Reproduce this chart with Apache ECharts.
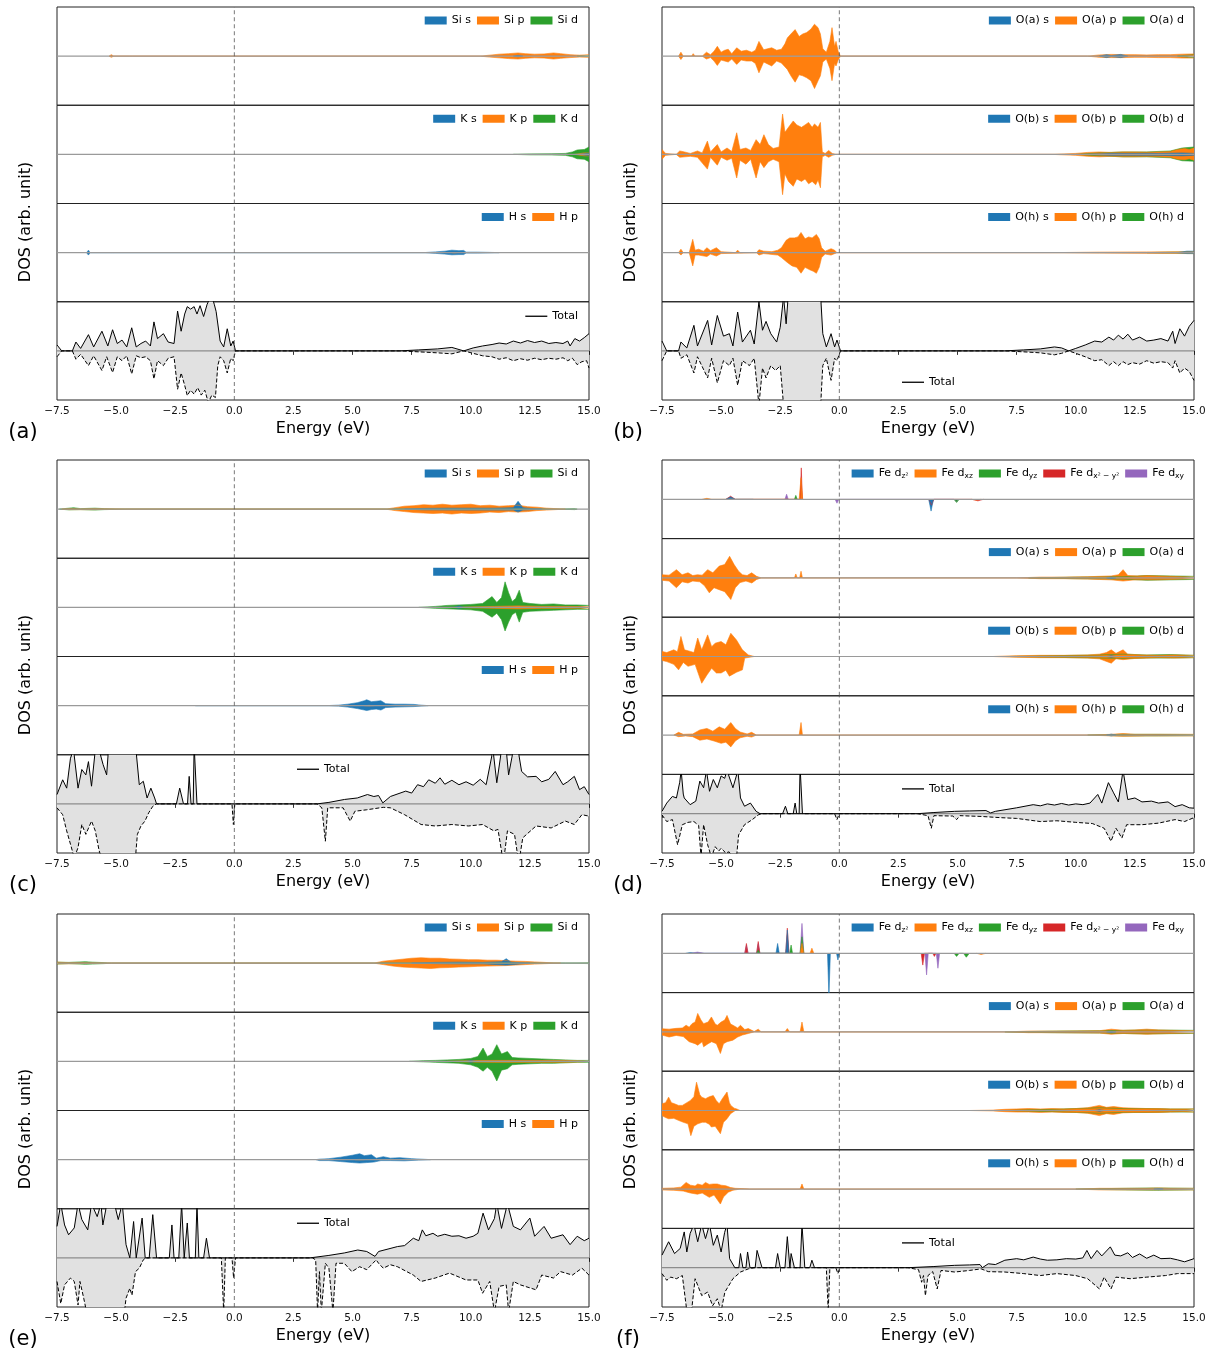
<!DOCTYPE html>
<html><head><meta charset="utf-8">
<script src="https://cdn.jsdelivr.net/npm/echarts/dist/echarts.min.js"></script>
<style>html,body{margin:0;padding:0;background:#fff}#c{width:1215px;height:1358px}</style>
</head><body><div id="c"></div>
<script>
// ---------- tick labels ----------
const energyTicks = [-7.5,-5.0,-2.5,0.0,2.5,5.0,7.5,10.0,12.5,15.0];

// ---------- panel (a) ----------
const a_Sis_u=[[11.8,0],[12.0,0.015],[12.2,0]];
const a_Sis_d=[[11.8,0],[12.0,-0.012],[12.2,0]];
const a_Sip_u=[[-5.3,0],[-5.2,0.03],[-5.1,0],[-4.45,0],[-4.38,0.035],[-4.3,0],[-2.45,0],[-2.4,0.01],[-2.35,0],[10.4,0],[10.8,0.02],[11.2,0.04],[11.6,0.05],[12.0,0.065],[12.3,0.05],[12.7,0.04],[13.1,0.045],[13.5,0.065],[13.8,0.05],[14.2,0.03],[14.6,0.02],[15,0.03]];
const a_Sip_d=[[-5.3,0],[-5.2,-0.025],[-5.1,0],[-4.45,0],[-4.38,-0.03],[-4.3,0],[10.4,0],[10.8,-0.02],[11.2,-0.035],[11.6,-0.05],[12.0,-0.06],[12.3,-0.045],[12.7,-0.035],[13.1,-0.04],[13.5,-0.06],[13.8,-0.045],[14.2,-0.03],[14.6,-0.02],[15,-0.025]];
const a_Sid_u=[[14.5,0],[15,0.01]];
const a_Sid_d=[[14.5,0],[15,-0.01]];
const a_Ks_u=[[14.6,0],[14.9,0.02],[15,0.02]];
const a_Ks_d=[[14.6,0],[14.9,-0.02],[15,-0.02]];
const a_Kp_u=[[14.4,0],[14.8,0.03],[15,0.03]];
const a_Kp_d=[[14.4,0],[14.8,-0.03],[15,-0.03]];
const a_Kd_u=[[11.8,0],[12.5,0.01],[13.4,0.012],[14.0,0.02],[14.3,0.05],[14.5,0.09],[14.8,0.1],[15,0.15]];
const a_Kd_d=[[11.8,0],[12.5,-0.01],[13.4,-0.012],[14.0,-0.02],[14.3,-0.05],[14.5,-0.09],[14.8,-0.1],[15,-0.15]];
const a_Hs_u=[[-6.25,0],[-6.17,0.05],[-6.1,0],[-5.55,0],[-5.5,0.01],[-5.45,0],[-5.2,0],[-5.15,0.015],[-5.1,0],[8.0,0],[8.5,0.015],[8.9,0.03],[9.2,0.05],[9.5,0.04],[9.7,0.045],[9.8,0.01],[10.3,0.01],[10.8,0.005],[11.2,0]];
const a_Hs_d=[[-6.25,0],[-6.17,-0.05],[-6.1,0],[-5.2,0],[-5.15,-0.01],[-5.1,0],[8.0,0],[8.5,-0.015],[8.9,-0.03],[9.2,-0.045],[9.5,-0.04],[9.7,-0.04],[9.8,-0.01],[10.3,-0.01],[11.2,0]];
const a_Hp_u=[[9.2,0],[9.3,0.005],[9.4,0]];
const a_Hp_d=[[9.2,0],[9.3,-0.005],[9.4,0]];
const a_T_u=[[-7.5,0.12],[-7.3,0],[-6.85,0],[-6.7,0.18],[-6.5,0.05],[-6.17,0.33],[-5.95,0.08],[-5.6,0.4],[-5.35,0.1],[-5.15,0.43],[-4.95,0.15],[-4.75,0.22],[-4.55,0.08],[-4.34,0.47],[-4.15,0.08],[-3.95,0.15],[-3.75,0.2],[-3.55,0.1],[-3.4,0.59],[-3.25,0.25],[-3.0,0.35],[-2.8,0.18],[-2.55,0.15],[-2.4,0.81],[-2.25,0.4],[-2.1,0.75],[-1.99,0.9],[-1.85,0.85],[-1.7,0.9],[-1.58,0.75],[-1.45,0.92],[-1.3,0.7],[-1.15,0.95],[-1.05,1.05],[-0.95,1.1],[-0.85,0.95],[-0.77,0.8],[-0.6,0.2],[-0.45,0.08],[-0.3,0.45],[-0.15,0.1],[-0.05,0.2],[0.05,0],[7.0,0],[7.8,0.02],[8.6,0.04],[9.2,0.07],[9.7,0],[10.1,0.06],[10.5,0.1],[10.9,0.13],[11.2,0.16],[11.5,0.14],[11.8,0.2],[12.1,0.16],[12.4,0.21],[12.7,0.17],[13.0,0.2],[13.3,0.15],[13.6,0.17],[13.9,0.15],[14.1,0.2],[14.2,0.1],[14.4,0.25],[14.6,0.2],[14.8,0.27],[15,0.35]];
const a_T_d=[[-7.5,-0.12],[-7.3,0],[-6.85,0],[-6.7,-0.17],[-6.5,-0.07],[-6.17,-0.3],[-5.95,-0.1],[-5.6,-0.4],[-5.4,-0.12],[-5.15,-0.44],[-4.95,-0.12],[-4.75,-0.2],[-4.55,-0.1],[-4.34,-0.47],[-4.15,-0.1],[-3.95,-0.14],[-3.75,-0.12],[-3.55,-0.2],[-3.4,-0.57],[-3.25,-0.2],[-3.0,-0.3],[-2.8,-0.15],[-2.55,-0.12],[-2.4,-0.78],[-2.25,-0.45],[-2.1,-0.7],[-1.99,-0.91],[-1.85,-0.8],[-1.7,-0.88],[-1.55,-0.75],[-1.4,-0.9],[-1.25,-0.8],[-1.1,-1.05],[-0.95,-0.9],[-0.8,-0.95],[-0.7,-0.3],[-0.6,-0.12],[-0.45,-0.2],[-0.3,-0.45],[-0.15,-0.15],[-0.05,-0.2],[0.05,0],[7.0,0],[7.8,-0.02],[8.6,-0.04],[9.2,-0.06],[9.7,0],[10.1,-0.05],[10.5,-0.1],[10.9,-0.12],[11.2,-0.17],[11.5,-0.14],[11.8,-0.2],[12.1,-0.16],[12.4,-0.19],[12.7,-0.15],[13.0,-0.18],[13.3,-0.15],[13.6,-0.17],[13.9,-0.14],[14.1,-0.2],[14.3,-0.15],[14.5,-0.28],[14.7,-0.22],[14.9,-0.2],[15,-0.35]];

// ---------- panel (b) ----------
const b_Oas_u=[[11,0],[11.3,0.03],[11.5,0.01],[11.9,0.035],[12.2,0]];
const b_Oas_d=[[11,0],[11.3,-0.03],[11.5,-0.01],[11.9,-0.03],[12.2,0]];
const b_Oap_u=[[-6.8,0],[-6.7,0.08],[-6.6,0],[-6.25,0],[-6.18,0.05],[-6.1,0],[-5.8,0],[-5.62,0.08],[-5.45,0.03],[-5.3,0.1],[-5.16,0.2],[-5.0,0.08],[-4.85,0.12],[-4.7,0.14],[-4.55,0.05],[-4.34,0.17],[-4.15,0.1],[-3.93,0.12],[-3.7,0.08],[-3.55,0.12],[-3.4,0.3],[-3.2,0.13],[-2.86,0.17],[-2.65,0.12],[-2.45,0.14],[-2.3,0.25],[-2.2,0.37],[-2.05,0.45],[-1.87,0.54],[-1.7,0.4],[-1.55,0.45],[-1.38,0.48],[-1.2,0.55],[-1.05,0.65],[-0.9,0.58],[-0.8,0.45],[-0.7,0.15],[-0.55,0.08],[-0.4,0.3],[-0.31,0.58],[-0.2,0.2],[-0.14,0.3],[-0.05,0.1],[0.05,0],[10.5,0],[11,0.025],[11.5,0.035],[12,0.03],[12.5,0.03],[13,0.025],[13.5,0.03],[14,0.03],[14.5,0.04],[15,0.045]];
const b_Oap_d=[[-6.8,0],[-6.7,-0.07],[-6.6,0],[-5.8,0],[-5.62,-0.06],[-5.45,-0.03],[-5.3,-0.1],[-5.16,-0.19],[-5.0,-0.08],[-4.7,-0.12],[-4.55,-0.06],[-4.34,-0.17],[-4.15,-0.08],[-3.93,-0.1],[-3.7,-0.1],[-3.55,-0.15],[-3.4,-0.34],[-3.2,-0.12],[-2.86,-0.2],[-2.65,-0.1],[-2.45,-0.14],[-2.2,-0.27],[-2.05,-0.4],[-1.87,-0.53],[-1.7,-0.38],[-1.55,-0.4],[-1.38,-0.44],[-1.2,-0.5],[-1.05,-0.66],[-0.9,-0.5],[-0.8,-0.4],[-0.7,-0.12],[-0.55,-0.06],[-0.4,-0.25],[-0.31,-0.5],[-0.2,-0.15],[-0.14,-0.2],[-0.05,-0.08],[0.05,0],[10.5,0],[11,-0.025],[11.5,-0.03],[12,-0.03],[12.5,-0.025],[13,-0.025],[13.5,-0.03],[14,-0.03],[14.5,-0.04],[15,-0.04]];
const b_Oad_u=[[14.3,0],[14.7,0.02],[15,0.03]];
const b_Oad_d=[[14.3,0],[14.7,-0.02],[15,-0.03]];
const b_Obs_u=[[10.5,0],[11.5,0.02],[12.5,0.02],[13.5,0.02],[14.5,0.03],[15,0.02]];
const b_Obs_d=[[10.5,0],[11.5,-0.02],[12.5,-0.02],[13.5,-0.02],[14.5,-0.03],[15,-0.02]];
const b_Obp_u=[[-7.5,0.1],[-7.35,0.02],[-6.9,0],[-6.75,0.07],[-6.55,0.05],[-6.3,0.02],[-6.0,0.07],[-5.8,0.03],[-5.58,0.27],[-5.45,0.05],[-5.16,0.2],[-5.0,0.05],[-4.75,0.13],[-4.55,0.06],[-4.34,0.44],[-4.2,0.1],[-3.95,0.13],[-3.75,0.08],[-3.52,0.3],[-3.35,0.2],[-3.19,0.4],[-3.0,0.2],[-2.8,0.12],[-2.55,0.15],[-2.4,0.82],[-2.3,0.45],[-2.15,0.55],[-1.95,0.68],[-1.8,0.6],[-1.6,0.55],[-1.45,0.6],[-1.3,0.65],[-1.15,0.55],[-1.05,0.62],[-0.9,0.55],[-0.8,0.65],[-0.72,0.05],[-0.6,0.02],[-0.45,0.08],[-0.3,0.02],[-0.15,0],[9.0,0],[9.5,0.01],[10.0,0.02],[10.5,0.04],[11.0,0.05],[11.5,0.04],[12.0,0.05],[12.5,0.05],[13.0,0.045],[13.5,0.05],[14.0,0.06],[14.3,0.1],[14.6,0.12],[14.8,0.1],[15,0.13]];
const b_Obp_d=[[-7.5,-0.1],[-7.35,-0.02],[-6.9,0],[-6.75,-0.06],[-6.3,-0.04],[-6.0,-0.06],[-5.58,-0.3],[-5.45,-0.06],[-5.16,-0.22],[-5.0,-0.06],[-4.75,-0.12],[-4.55,-0.08],[-4.34,-0.48],[-4.2,-0.12],[-3.95,-0.2],[-3.75,-0.1],[-3.52,-0.48],[-3.35,-0.15],[-3.19,-0.27],[-3.0,-0.15],[-2.8,-0.1],[-2.55,-0.15],[-2.4,-0.82],[-2.3,-0.4],[-2.15,-0.55],[-1.95,-0.65],[-1.8,-0.5],[-1.6,-0.55],[-1.45,-0.5],[-1.3,-0.6],[-1.15,-0.55],[-1.0,-0.62],[-0.9,-0.52],[-0.8,-0.68],[-0.72,-0.05],[-0.6,-0.02],[-0.45,-0.06],[-0.3,-0.02],[-0.15,0],[9.0,0],[9.5,-0.01],[10.0,-0.02],[10.5,-0.04],[11.0,-0.05],[11.5,-0.04],[12.0,-0.05],[12.5,-0.05],[13.0,-0.045],[13.5,-0.05],[14.0,-0.06],[14.3,-0.1],[14.6,-0.11],[14.8,-0.09],[15,-0.12]];
const b_Obd_u=[[10,0],[11,0.03],[12,0.05],[13,0.05],[14,0.07],[14.5,0.13],[15,0.15]];
const b_Obd_d=[[10,0],[11,-0.03],[12,-0.05],[13,-0.05],[14,-0.07],[14.5,-0.13],[15,-0.14]];
const b_Ohs_u=[[14.3,0],[14.7,0.03],[15,0.03]];
const b_Ohs_d=[[14.3,0],[14.7,-0.02],[15,-0.02]];
const b_Ohp_u=[[-6.8,0],[-6.7,0.07],[-6.6,0],[-6.35,0],[-6.2,0.27],[-6.1,0.05],[-5.95,0.07],[-5.75,0.03],[-5.6,0.1],[-5.45,0.04],[-5.2,0.1],[-5.0,0.02],[-4.4,0],[-4.3,0.05],[-4.2,0],[-3.5,0],[-3.4,0.06],[-3.2,0.03],[-2.85,0.02],[-2.6,0.05],[-2.45,0.1],[-2.25,0.25],[-2.1,0.3],[-1.9,0.3],[-1.75,0.32],[-1.62,0.41],[-1.45,0.28],[-1.3,0.32],[-1.15,0.3],[-0.97,0.37],[-0.85,0.28],[-0.75,0.1],[-0.6,0.03],[-0.35,0.08],[-0.2,0.05],[-0.1,0],[9,0],[11,0.01],[13,0.015],[15,0.02]];
const b_Ohp_d=[[-6.8,0],[-6.7,-0.05],[-6.6,0],[-6.35,0],[-6.2,-0.27],[-6.1,-0.05],[-5.95,-0.05],[-5.6,-0.08],[-5.45,-0.03],[-5.2,-0.07],[-5.0,-0.02],[-3.5,0],[-3.4,-0.05],[-3.2,-0.02],[-2.6,-0.05],[-2.45,-0.1],[-2.2,-0.2],[-2.0,-0.27],[-1.8,-0.3],[-1.62,-0.42],[-1.45,-0.3],[-1.25,-0.35],[-1.1,-0.38],[-0.97,-0.42],[-0.85,-0.3],[-0.75,-0.1],[-0.6,-0.03],[-0.35,-0.05],[-0.1,0],[9,0],[11,-0.01],[13,-0.015],[15,-0.02]];
const b_Ohd_u=[[13,0],[14,0.01],[15,0.015]];
const b_Ohd_d=[[13,0],[14,-0.01],[15,-0.015]];
const b_T_u=[[-7.5,0.2],[-7.3,0],[-6.8,0],[-6.7,0.18],[-6.45,0.06],[-6.15,0.52],[-6.0,0.1],[-5.57,0.62],[-5.4,0.12],[-5.16,0.72],[-4.9,0.3],[-4.65,0.35],[-4.5,0.1],[-4.3,0.79],[-4.1,0.18],[-3.76,0.42],[-3.6,0.14],[-3.4,1.0],[-3.25,0.42],[-3.1,0.6],[-2.9,0.35],[-2.65,0.18],[-2.5,0.48],[-2.36,1.1],[-2.25,0.55],[-2.15,1.2],[-1.5,1.4],[-0.8,1.2],[-0.7,0.35],[-0.55,0.08],[-0.35,0.35],[-0.2,0.08],[-0.1,0.22],[0.05,0],[7.0,0],[7.8,0.02],[8.5,0.04],[9.1,0.08],[9.4,0.06],[9.7,0],[10.0,0.05],[10.4,0.12],[10.8,0.2],[11.1,0.18],[11.4,0.28],[11.6,0.22],[11.8,0.32],[12.0,0.24],[12.2,0.34],[12.4,0.22],[12.7,0.28],[13.0,0.2],[13.3,0.22],[13.6,0.25],[13.9,0.2],[14.1,0.4],[14.2,0.15],[14.4,0.45],[14.6,0.3],[14.8,0.5],[15,0.62]];
const b_T_d=[[-7.5,-0.2],[-7.3,0],[-6.8,0],[-6.7,-0.15],[-6.45,-0.08],[-6.15,-0.45],[-6.0,-0.12],[-5.57,-0.55],[-5.4,-0.15],[-5.16,-0.65],[-4.9,-0.2],[-4.65,-0.3],[-4.5,-0.15],[-4.3,-0.7],[-4.1,-0.2],[-3.8,-0.3],[-3.6,-0.15],[-3.4,-1.1],[-3.25,-0.35],[-3.1,-0.55],[-2.9,-0.3],[-2.7,-0.4],[-2.5,-0.3],[-2.36,-1.1],[-1.5,-1.4],[-0.8,-1.2],[-0.7,-0.3],[-0.55,-0.15],[-0.35,-0.6],[-0.2,-0.15],[-0.1,-0.2],[0.05,0],[7.0,0],[7.8,-0.02],[8.5,-0.04],[9.1,-0.08],[9.4,-0.05],[9.7,0],[10.0,-0.05],[10.4,-0.12],[10.8,-0.2],[11.1,-0.18],[11.4,-0.3],[11.6,-0.22],[11.8,-0.3],[12.0,-0.22],[12.2,-0.28],[12.4,-0.24],[12.7,-0.27],[13.0,-0.2],[13.3,-0.25],[13.6,-0.22],[13.9,-0.24],[14.1,-0.35],[14.2,-0.2],[14.4,-0.45],[14.6,-0.35],[14.8,-0.42],[15,-0.6]];

// ---------- panel (c) ----------
const c_Sis_u=[[7.2,0],[8.0,0.015],[9.0,0.02],[10.0,0.02],[11.0,0.02],[11.8,0.03],[12.0,0.16],[12.2,0.03],[12.6,0.01],[13,0]];
const c_Sis_d=[[7.2,0],[8,-0.015],[9.5,-0.02],[11,-0.02],[11.8,-0.02],[12.0,-0.06],[12.2,-0.02],[13,0]];
const c_Sip_u=[[-7.3,0],[-7.0,0.01],[-6.5,0.005],[-6.0,0.01],[-5.0,0.005],[-4.6,0],[6.4,0],[6.8,0.03],[7.2,0.06],[7.6,0.07],[8.0,0.09],[8.4,0.08],[8.8,0.1],[9.2,0.08],[9.6,0.09],[10.0,0.1],[10.4,0.07],[10.8,0.08],[11.2,0.06],[11.6,0.07],[12.0,0.08],[12.4,0.05],[12.8,0.04],[13.2,0.02],[13.6,0.01],[14.0,0]];
const c_Sip_d=[[-7.3,0],[-7.0,-0.01],[-6.0,-0.01],[-4.6,0],[6.4,0],[6.8,-0.03],[7.2,-0.05],[7.6,-0.07],[8.0,-0.08],[8.4,-0.09],[8.8,-0.08],[9.2,-0.1],[9.6,-0.08],[10.0,-0.09],[10.4,-0.08],[10.8,-0.06],[11.2,-0.07],[11.6,-0.05],[12.0,-0.06],[12.4,-0.05],[12.8,-0.03],[13.2,-0.02],[13.6,-0.01],[14.0,0]];
const c_Sid_u=[[-7.4,0],[-7.0,0.02],[-6.8,0.03],[-6.5,0.01],[-5.9,0.02],[-5.5,0.01],[-4.5,0],[13.5,0],[14.4,0.01],[14.5,0]];
const c_Sid_d=[[-7.4,0],[-7.0,-0.015],[-6.5,-0.01],[-5.9,-0.02],[-5.5,-0.01],[-4.5,0],[13.5,0],[14.4,-0.01],[14.5,0]];
const c_Ks_u=[[9.3,0],[9.5,0.03],[9.7,0]];
const c_Ks_d=[[9.3,0],[9.5,-0.02],[9.7,0]];
const c_Kp_u=[[9.5,0],[10,0.01],[11,0.02],[12,0.03],[13,0.02],[14,0.02],[15,0.015]];
const c_Kp_d=[[9.5,0],[10,-0.01],[11,-0.02],[12,-0.03],[13,-0.02],[14,-0.02],[15,-0.015]];
const c_Kd_u=[[7.8,0],[8.5,0.02],[9.0,0.04],[9.5,0.05],[10.0,0.06],[10.5,0.08],[10.9,0.22],[11.1,0.1],[11.3,0.2],[11.45,0.52],[11.6,0.3],[11.75,0.12],[11.9,0.18],[12.05,0.35],[12.2,0.1],[12.5,0.08],[13.0,0.06],[13.5,0.07],[14.0,0.05],[14.5,0.05],[15,0.04]];
const c_Kd_d=[[7.8,0],[8.5,-0.02],[9.0,-0.03],[9.5,-0.04],[10.0,-0.05],[10.5,-0.08],[10.9,-0.2],[11.1,-0.12],[11.3,-0.25],[11.45,-0.48],[11.6,-0.3],[11.75,-0.15],[11.9,-0.1],[12.05,-0.3],[12.2,-0.1],[12.5,-0.08],[13.0,-0.07],[13.5,-0.06],[14.0,-0.05],[14.5,-0.04],[15,-0.04]];
const c_Hs_u=[[-1.65,0],[-1.6,0.02],[-1.55,0],[3.9,0],[4.4,0.01],[4.8,0.03],[5.2,0.06],[5.5,0.1],[5.6,0.12],[5.8,0.08],[6.0,0.09],[6.2,0.1],[6.4,0.04],[6.8,0.03],[7.2,0.03],[7.6,0.025],[7.9,0.01],[8.2,0]];
const c_Hs_d=[[-1.65,0],[-1.6,-0.01],[-1.55,0],[3.9,0],[4.4,-0.01],[4.8,-0.03],[5.2,-0.06],[5.5,-0.09],[5.6,-0.1],[5.8,-0.08],[6.0,-0.07],[6.2,-0.09],[6.4,-0.04],[6.8,-0.03],[7.2,-0.025],[7.6,-0.02],[7.9,-0.01],[8.2,0]];
const c_Hp_u=[[5.5,0],[5.7,0.005],[5.9,0]];
const c_Hp_d=[[5.5,0],[5.7,-0.005],[5.9,0]];
const c_T_u=[[-7.5,0.19],[-7.26,0.49],[-7.09,0.32],[-6.93,0.93],[-6.8,1.1],[-6.61,0.32],[-6.45,0.7],[-6.28,0.59],[-6.17,0.86],[-6.04,0.36],[-5.88,1.1],[-5.72,1.1],[-5.55,0.8],[-5.4,0.59],[-5.31,1.2],[-4.18,1.2],[-4.02,0.39],[-3.85,0.46],[-3.69,0.12],[-3.53,0.32],[-3.37,0.12],[-3.29,0],[-2.45,0],[-2.31,0.32],[-2.15,0],[-1.98,0],[-1.91,0.56],[-1.83,0],[-1.74,0],[-1.7,1.2],[-1.63,1.2],[-1.58,0],[3.5,0],[4.0,0.03],[4.66,0.09],[5.2,0.12],[5.63,0.19],[5.9,0.15],[6.1,0.17],[6.28,0.02],[6.6,0.15],[7.25,0.26],[7.5,0.22],[7.75,0.39],[8.0,0.35],[8.22,0.49],[8.5,0.42],[8.7,0.53],[8.9,0.4],[9.2,0.48],[9.5,0.39],[9.8,0.45],[10.1,0.38],[10.4,0.5],[10.65,0.39],[10.94,1.1],[11.1,0.43],[11.3,1.1],[11.5,1.1],[11.6,0.59],[11.8,1.1],[12.0,1.1],[12.15,0.66],[12.4,0.55],[12.76,0.56],[13.0,0.45],[13.3,0.5],[13.57,0.66],[13.9,0.39],[14.1,0.45],[14.38,0.56],[14.6,0.29],[14.8,0.35],[15,0.19]];
const c_T_d=[[-7.5,-0.08],[-7.26,-0.22],[-7.09,-0.55],[-6.93,-0.82],[-6.77,-1.1],[-6.61,-0.89],[-6.45,-0.42],[-6.28,-0.62],[-6.04,-0.35],[-5.88,-0.55],[-5.72,-0.95],[-5.55,-1.2],[-4.2,-1.2],[-4.1,-0.62],[-3.95,-0.45],[-3.78,-0.35],[-3.62,-0.18],[-3.45,-0.05],[-3.3,0],[-0.1,0],[-0.04,-0.42],[0.02,0],[3.5,0],[3.7,-0.08],[3.85,-0.76],[3.95,-0.08],[4.6,-0.08],[4.9,-0.35],[5.1,-0.15],[5.6,-0.12],[6.3,-0.07],[6.6,-0.08],[7.2,-0.22],[7.9,-0.42],[8.5,-0.45],[9.2,-0.42],[9.9,-0.45],[10.5,-0.42],[10.98,-0.55],[11.15,-0.52],[11.38,-1.2],[11.55,-0.55],[11.85,-0.62],[12.03,-1.2],[12.2,-0.69],[12.76,-0.45],[13.4,-0.49],[14.0,-0.35],[14.38,-0.42],[14.7,-0.22],[15,-0.25]];

// ---------- panel (d) ----------
const d_Fz2_u=[[-4.8,0],[-4.6,0.06],[-4.4,0],[-3.78,0],[-3.71,0.025],[-3.64,0]];
const d_Fz2_d=[[3.78,0],[3.88,-0.3],[3.98,0]];
const d_Fxz_u=[[-5.8,0],[-5.6,0.025],[-5.4,0],[-1.7,0],[-1.62,0.55],[-1.55,0]];
const d_Fxz_d=[[5.6,0],[5.8,-0.02],[6.0,0]];
const d_Fyz_u=[[-1.9,0],[-1.84,0.1],[-1.78,0]];
const d_Fyz_d=[[4.85,0],[4.96,-0.08],[5.07,0]];
const d_Fx2_u=[[-4.8,0],[-4.6,0.08],[-4.4,0],[-1.66,0],[-1.61,0.8],[-1.56,0]];
const d_Fx2_d=[[3.78,0],[3.9,-0.15],[4.0,0],[5.6,0],[5.86,-0.04],[6.1,0]];
const d_Fxy_u=[[-2.3,0],[-2.23,0.13],[-2.16,0]];
const d_Fxy_d=[[-0.18,0],[-0.1,-0.1],[-0.02,0],[4.85,0],[4.95,-0.06],[5.05,0]];
const d_Oas_u=[[11.3,0],[11.5,0.02],[11.7,0]];
const d_Oas_d=[[11.3,0],[11.5,-0.02],[11.7,0]];
const d_Oap_u=[[-7.5,0.08],[-7.2,0.07],[-6.89,0.21],[-6.65,0.08],[-6.4,0.13],[-6.2,0.06],[-6.0,0.08],[-5.8,0.07],[-5.57,0.21],[-5.35,0.13],[-5.08,0.3],[-4.85,0.34],[-4.64,0.55],[-4.45,0.34],[-4.26,0.17],[-4.1,0.08],[-3.9,0.06],[-3.71,0.13],[-3.5,0.04],[-3.3,0],[-1.9,0],[-1.84,0.1],[-1.78,0],[-1.68,0],[-1.62,0.17],[-1.56,0],[7.5,0],[8.5,0.02],[9.5,0.02],[10.5,0.03],[11.0,0.04],[11.5,0.05],[11.8,0.08],[12.0,0.21],[12.2,0.06],[12.6,0.05],[13.0,0.06],[13.5,0.05],[14.0,0.04],[14.5,0.03],[15,0.02]];
const d_Oap_d=[[-7.5,-0.06],[-7.2,-0.08],[-6.89,-0.25],[-6.65,-0.1],[-6.4,-0.13],[-6.2,-0.08],[-5.9,-0.1],[-5.7,-0.2],[-5.5,-0.38],[-5.3,-0.25],[-5.08,-0.3],[-4.85,-0.35],[-4.59,-0.55],[-4.4,-0.25],[-4.2,-0.12],[-3.95,-0.08],[-3.7,-0.13],[-3.5,-0.04],[-3.3,0],[7.5,0],[8.5,-0.02],[9.5,-0.02],[10.5,-0.03],[11.0,-0.04],[11.5,-0.05],[12.0,-0.08],[12.5,-0.05],[13.0,-0.05],[13.5,-0.05],[14.0,-0.04],[14.5,-0.03],[15,-0.02]];
const d_Oad_u=[[8,0],[10,0.02],[12,0.03],[13,0.06],[14,0.05],[15,0.04]];
const d_Oad_d=[[8,0],[10,-0.02],[12,-0.03],[13,-0.06],[14,-0.05],[15,-0.04]];
const d_Obs_u=[[11.3,0],[11.5,0.02],[11.7,0]];
const d_Obs_d=[[11.3,0],[11.5,-0.02],[11.7,0]];
const d_Obp_u=[[-7.5,0.13],[-7.3,0.1],[-7.0,0.17],[-6.85,0.12],[-6.7,0.51],[-6.55,0.17],[-6.3,0.13],[-6.15,0.1],[-5.99,0.47],[-5.82,0.17],[-5.57,0.55],[-5.4,0.25],[-5.25,0.34],[-5.0,0.38],[-4.8,0.3],[-4.59,0.59],[-4.35,0.42],[-4.1,0.17],[-3.85,0.04],[-3.6,0],[6.5,0],[7.5,0.02],[8.5,0.03],[9.5,0.03],[10.5,0.04],[11.0,0.06],[11.3,0.1],[11.5,0.17],[11.7,0.08],[12.0,0.17],[12.2,0.06],[12.8,0.04],[13.5,0.03],[14.2,0.04],[15,0.03]];
const d_Obp_d=[[-7.5,-0.1],[-7.3,-0.13],[-7.0,-0.2],[-6.8,-0.34],[-6.6,-0.15],[-6.4,-0.25],[-6.1,-0.2],[-5.82,-0.68],[-5.6,-0.47],[-5.4,-0.3],[-5.2,-0.42],[-5.0,-0.42],[-4.8,-0.35],[-4.65,-0.5],[-4.35,-0.4],[-4.1,-0.34],[-4.0,-0.04],[-3.6,0],[6.5,0],[7.5,-0.02],[8.5,-0.03],[9.5,-0.03],[10.5,-0.04],[11.0,-0.06],[11.5,-0.17],[11.7,-0.06],[12.0,-0.08],[12.5,-0.05],[13.5,-0.03],[14.2,-0.04],[15,-0.03]];
const d_Obd_u=[[7,0],[9,0.02],[11,0.04],[12,0.06],[13,0.04],[14,0.05],[15,0.03]];
const d_Obd_d=[[7,0],[9,-0.02],[11,-0.04],[12,-0.05],[13,-0.04],[14,-0.04],[15,-0.03]];
const d_Ohs_u=[[11.3,0],[11.5,0.025],[11.7,0]];
const d_Ohs_d=[[11.3,0],[11.5,-0.02],[11.7,0]];
const d_Ohp_u=[[-7.0,0],[-6.8,0.07],[-6.6,0.02],[-6.2,0.03],[-5.9,0.13],[-5.6,0.17],[-5.35,0.1],[-5.08,0.21],[-4.85,0.15],[-4.59,0.32],[-4.4,0.17],[-4.2,0.08],[-3.9,0.03],[-3.71,0.07],[-3.5,0],[-1.7,0],[-1.62,0.32],[-1.56,0],[10.5,0],[11.5,0.02],[12,0.04],[12.5,0.02],[13.5,0.02],[15,0.02]];
const d_Ohp_d=[[-7.0,0],[-6.8,-0.04],[-6.5,-0.02],[-6.2,-0.04],[-5.9,-0.13],[-5.6,-0.1],[-5.3,-0.15],[-5.0,-0.21],[-4.8,-0.18],[-4.59,-0.3],[-4.4,-0.15],[-4.2,-0.07],[-3.9,-0.03],[-3.71,-0.05],[-3.5,0],[10.5,0],[11.5,-0.02],[12,-0.03],[13,-0.02],[15,-0.02]];
const d_Ohd_u=[[10.5,0],[12,0.02],[13.5,0.02],[15,0.015]];
const d_Ohd_d=[[10.5,0],[12,-0.02],[13.5,-0.02],[15,-0.015]];
const d_T_u=[[-7.5,0.06],[-7.3,0.27],[-7.06,0.44],[-6.89,0.4],[-6.75,0.8],[-6.69,1.1],[-6.6,0.5],[-6.56,0.4],[-6.31,0.23],[-6.07,0.32],[-5.9,0.83],[-5.74,0.66],[-5.62,1.1],[-5.49,0.57],[-5.33,0.87],[-5.16,0.66],[-5.0,0.96],[-4.85,0.9],[-4.75,1.1],[-4.5,0.66],[-4.29,1.1],[-4.18,0.4],[-4.01,0.19],[-3.76,0.27],[-3.52,0.06],[-3.35,0],[-2.4,0],[-2.28,0.19],[-2.18,0],[-1.95,0],[-1.87,0.27],[-1.8,0],[-1.7,0],[-1.66,1.2],[-1.6,1.2],[-1.56,0],[3.3,0],[4.0,0.03],[4.88,0.06],[5.5,0.07],[6.2,0.08],[6.4,0.02],[6.6,0.06],[7.5,0.15],[8.2,0.23],[8.5,0.2],[8.8,0.25],[9.1,0.22],[9.4,0.26],[9.7,0.22],[10.0,0.25],[10.3,0.23],[10.6,0.27],[10.93,0.49],[11.1,0.27],[11.38,0.79],[11.6,0.53],[11.8,0.3],[12.0,1.1],[12.2,0.36],[12.5,0.4],[12.8,0.3],[13.2,0.32],[13.5,0.27],[13.9,0.3],[14.2,0.18],[14.5,0.23],[14.8,0.15],[15,0.14]];
const d_T_d=[[-7.5,-0.03],[-7.3,-0.2],[-7.06,-0.15],[-6.84,-0.79],[-6.64,-0.28],[-6.4,-0.22],[-6.15,-0.2],[-5.95,-0.3],[-5.85,-1.1],[-5.74,-0.28],[-5.57,-0.79],[-5.41,-1.1],[-5.25,-0.84],[-5.1,-0.95],[-5.0,-0.88],[-4.8,-1.0],[-4.67,-0.97],[-4.45,-1.1],[-4.34,-1.05],[-4.26,-0.54],[-4.01,-0.28],[-3.68,-0.15],[-3.43,-0.03],[-3.3,0],[-0.2,0],[-0.1,-0.15],[0,0],[3.3,0],[3.75,-0.05],[3.89,-0.37],[4.0,-0.05],[4.8,-0.06],[4.96,-0.15],[5.1,-0.05],[6.0,-0.07],[6.8,-0.1],[7.5,-0.12],[8.5,-0.2],[9.2,-0.18],[10.0,-0.22],[10.7,-0.25],[11.2,-0.37],[11.49,-0.7],[11.7,-0.37],[11.95,-0.62],[12.15,-0.28],[12.8,-0.28],[13.5,-0.24],[14.2,-0.15],[14.6,-0.2],[15,-0.1]];

// ---------- panel (e) ----------
const e_Sis_u=[[7.5,0],[8.5,0.015],[9.5,0.02],[10.5,0.015],[11.3,0.03],[11.5,0.09],[11.7,0.02],[12.5,0]];
const e_Sis_d=[[7.5,0],[8.5,-0.01],[9.5,-0.015],[10.5,-0.015],[11.5,-0.04],[12.5,0]];
const e_Sip_u=[[-7.5,0.02],[-7.0,0.01],[-6.5,0.01],[-5.8,0.005],[-5.5,0],[5.9,0],[6.3,0.04],[6.7,0.06],[7.1,0.08],[7.5,0.1],[7.9,0.11],[8.3,0.1],[8.7,0.1],[9.1,0.085],[9.5,0.08],[9.9,0.07],[10.3,0.07],[10.7,0.06],[11.1,0.06],[11.5,0.05],[11.9,0.04],[12.3,0.035],[12.7,0.025],[13.1,0.015],[13.5,0.005],[13.8,0]];
const e_Sip_d=[[-7.5,-0.015],[-6.5,-0.01],[-5.5,0],[5.9,0],[6.3,-0.03],[6.7,-0.06],[7.1,-0.08],[7.5,-0.09],[7.9,-0.1],[8.3,-0.11],[8.7,-0.095],[9.1,-0.09],[9.5,-0.08],[9.9,-0.075],[10.3,-0.065],[10.7,-0.06],[11.1,-0.055],[11.5,-0.05],[11.9,-0.04],[12.3,-0.03],[12.7,-0.02],[13.1,-0.012],[13.5,-0.005],[13.8,0]];
const e_Sid_u=[[-7.5,0.02],[-7.0,0.015],[-6.3,0.03],[-6.0,0.02],[-5.5,0.01],[-5.2,0],[14,0],[15,0.01]];
const e_Sid_d=[[-7.5,-0.02],[-7.0,-0.01],[-6.3,-0.025],[-6.0,-0.02],[-5.5,-0.01],[-5.2,0],[14,0],[15,-0.01]];
const e_Ks_u=[[9.8,0],[10,0.02],[10.2,0]];
const e_Ks_d=[[9.8,0],[10,-0.02],[10.2,0]];
const e_Kp_u=[[9,0],[10,0.015],[11,0.02],[12,0.02],[13,0.02],[14,0.02],[14.7,0.01],[15,0]];
const e_Kp_d=[[9,0],[10,-0.015],[11,-0.02],[12,-0.02],[13,-0.02],[14,-0.02],[14.7,-0.01],[15,0]];
const e_Kd_u=[[7.4,0],[8,0.015],[8.5,0.02],[9.0,0.03],[9.5,0.04],[10.0,0.06],[10.3,0.1],[10.52,0.27],[10.7,0.1],[10.9,0.15],[11.1,0.34],[11.3,0.15],[11.55,0.2],[11.75,0.08],[12.0,0.07],[12.5,0.06],[13.0,0.05],[13.5,0.04],[14.0,0.03],[14.5,0.02],[15,0.02]];
const e_Kd_d=[[7.4,0],[8,-0.01],[8.5,-0.02],[9.0,-0.03],[9.5,-0.04],[10.0,-0.07],[10.3,-0.12],[10.52,-0.2],[10.7,-0.12],[10.9,-0.2],[11.1,-0.4],[11.3,-0.18],[11.55,-0.15],[11.75,-0.07],[12.0,-0.06],[12.5,-0.05],[13.0,-0.04],[13.5,-0.04],[14.0,-0.03],[14.5,-0.02],[15,-0.02]];
const e_Hs_u=[[3.45,0],[3.6,0.01],[4.0,0.02],[4.5,0.05],[5.0,0.09],[5.3,0.12],[5.5,0.08],[5.8,0.1],[6.0,0.03],[6.3,0.06],[6.6,0.03],[7.0,0.04],[7.5,0.02],[7.9,0.01],[8.3,0]];
const e_Hs_d=[[3.45,0],[3.6,-0.02],[4.0,-0.02],[4.5,-0.04],[5.0,-0.06],[5.3,-0.07],[5.6,-0.06],[5.9,-0.05],[6.2,-0.02],[6.6,-0.02],[7.2,-0.025],[7.8,-0.01],[8.3,0]];
const e_Hp_u=[[5.1,0],[5.3,0.005],[5.5,0]];
const e_Hp_d=[[5.1,0],[5.3,-0.005],[5.5,0]];
const e_T_u=[[-7.5,0.64],[-7.34,1.1],[-7.18,0.67],[-7.01,0.47],[-6.77,0.61],[-6.61,1.1],[-6.45,0.78],[-6.2,0.57],[-6.04,1.1],[-5.8,0.84],[-5.64,1.1],[-5.56,0.67],[-5.39,1.1],[-5.07,1.1],[-4.91,0.78],[-4.74,1.1],[-4.58,0.27],[-4.42,0],[-4.26,0.74],[-4.15,0],[-3.9,0.81],[-3.77,0],[-3.6,0],[-3.45,0.88],[-3.29,0],[-2.75,0],[-2.64,0.67],[-2.55,0],[-2.35,0],[-2.23,1.1],[-2.12,0],[-1.99,0.71],[-1.9,0],[-1.65,0],[-1.58,1.1],[-1.5,0],[-1.3,0],[-1.18,0.4],[-1.05,0],[3.2,0],[4.0,0.05],[4.65,0.1],[5.22,0.16],[5.6,0.13],[5.95,0.03],[6.1,0.13],[6.5,0.18],[6.9,0.23],[7.2,0.25],[7.57,0.4],[7.8,0.35],[7.95,0.57],[8.1,0.45],[8.4,0.5],[8.6,0.44],[8.9,0.48],[9.2,0.44],[9.5,0.45],[9.8,0.4],[10.1,0.44],[10.3,0.5],[10.52,0.91],[10.75,0.57],[11.0,0.8],[11.1,1.1],[11.3,0.6],[11.55,1.1],[11.8,0.64],[12.1,0.57],[12.5,0.81],[12.7,0.44],[13.1,0.64],[13.4,0.4],[13.9,0.47],[14.2,0.27],[14.5,0.44],[14.8,0.35],[15,0.4]];
const e_T_d=[[-7.5,-0.48],[-7.34,-0.93],[-7.18,-0.55],[-6.93,-0.41],[-6.77,-0.48],[-6.61,-0.96],[-6.53,-0.48],[-6.37,-0.82],[-6.25,-1.1],[-4.65,-1.1],[-4.58,-0.82],[-4.42,-0.62],[-4.33,-0.76],[-4.18,-0.28],[-4.02,-0.21],[-3.85,-0.04],[-3.75,0],[-0.55,0],[-0.45,-1.1],[-0.38,0],[-0.1,0],[-0.03,-0.41],[0.05,0],[3.3,0],[3.44,-0.04],[3.52,-1.1],[3.6,-0.28],[3.68,-1.1],[3.85,-0.11],[4.0,-0.21],[4.17,-1.1],[4.3,-0.11],[4.65,-0.11],[4.97,-0.28],[5.3,-0.18],[5.6,-0.24],[6.0,-0.04],[6.1,-0.11],[6.3,-0.21],[6.6,-0.14],[6.9,-0.18],[7.57,-0.35],[7.9,-0.48],[8.5,-0.41],[9.1,-0.31],[9.8,-0.45],[10.3,-0.45],[10.5,-0.72],[10.8,-0.48],[11.0,-1.1],[11.2,-0.58],[11.5,-0.55],[11.6,-1.1],[11.8,-0.48],[12.1,-0.55],[12.76,-0.65],[13.0,-0.35],[13.5,-0.41],[13.8,-0.28],[14.3,-0.35],[14.7,-0.21],[15,-0.35]];

// ---------- panel (f) ----------
const f_Fz2_u=[[-6.5,0],[-6.3,0.02],[-6.1,0],[-2.68,0],[-2.61,0.25],[-2.54,0],[-2.27,0],[-2.2,0.59],[-2.13,0]];
const f_Fz2_d=[[-0.5,0],[-0.44,-1.1],[-0.38,0],[-0.12,0],[-0.06,-0.17],[0.0,0]];
const f_Fxz_u=[[-1.66,0],[-1.58,0.25],[-1.5,0],[-1.24,0],[-1.16,0.13],[-1.08,0]];
const f_Fxz_d=[[5.8,0],[6.0,-0.03],[6.2,0]];
const f_Fyz_u=[[-3.5,0],[-3.43,0.08],[-3.36,0],[-2.1,0],[-2.04,0.21],[-1.98,0],[-1.66,0],[-1.58,0.42],[-1.5,0]];
const f_Fyz_d=[[4.85,0],[4.96,-0.08],[5.07,0],[5.25,0],[5.37,-0.1],[5.5,0]];
const f_Fx2_u=[[-4.0,0],[-3.93,0.25],[-3.86,0],[-3.5,0],[-3.43,0.3],[-3.36,0],[-2.27,0],[-2.2,0.64],[-2.13,0]];
const f_Fx2_d=[[3.46,0],[3.53,-0.3],[3.6,0],[3.95,0],[4.02,-0.08],[4.09,0]];
const f_Fxy_u=[[-6.3,0],[-6.0,0.03],[-5.7,0],[-4.0,0],[-3.93,0.2],[-3.86,0],[-3.5,0],[-3.43,0.25],[-3.36,0],[-1.66,0],[-1.58,0.76],[-1.5,0]];
const f_Fxy_d=[[3.62,0],[3.69,-0.55],[3.76,0],[4.1,0],[4.17,-0.38],[4.24,0]];
const f_Oas_u=[[11.3,0],[11.5,0.015],[11.7,0]];
const f_Oas_d=[[11.3,0],[11.5,-0.015],[11.7,0]];
const f_Oap_u=[[-7.5,0.08],[-7.2,0.07],[-6.9,0.09],[-6.64,0.1],[-6.48,0.17],[-6.35,0.12],[-6.23,0.21],[-6.1,0.25],[-5.99,0.47],[-5.85,0.3],[-5.74,0.21],[-5.55,0.25],[-5.41,0.38],[-5.25,0.2],[-5.16,0.17],[-5.0,0.25],[-4.85,0.3],[-4.75,0.42],[-4.6,0.2],[-4.5,0.17],[-4.3,0.1],[-4.18,0.17],[-4.0,0.06],[-3.85,0.085],[-3.6,0.01],[-3.43,0.07],[-3.3,0],[-2.3,0],[-2.2,0.085],[-2.1,0],[-1.66,0],[-1.58,0.25],[-1.5,0],[-1.2,0],[-1.16,0.03],[-1.1,0],[7,0],[8,0.02],[9,0.02],[10,0.025],[11,0.03],[11.5,0.07],[12,0.04],[12.5,0.05],[13,0.07],[13.5,0.05],[14,0.04],[15,0.03]];
const f_Oap_d=[[-7.5,-0.08],[-7.2,-0.13],[-6.9,-0.09],[-6.6,-0.12],[-6.35,-0.25],[-6.1,-0.3],[-5.99,-0.34],[-5.8,-0.25],[-5.74,-0.38],[-5.55,-0.3],[-5.4,-0.25],[-5.2,-0.3],[-5.03,-0.55],[-4.9,-0.3],[-4.75,-0.25],[-4.5,-0.21],[-4.3,-0.13],[-4.1,-0.08],[-3.85,-0.04],[-3.6,0],[-0.5,0],[-0.44,-0.03],[-0.38,0],[7,0],[8,-0.02],[9,-0.02],[10,-0.025],[11,-0.03],[11.5,-0.06],[12,-0.04],[12.5,-0.05],[13,-0.06],[13.5,-0.05],[14,-0.04],[15,-0.03]];
const f_Oad_u=[[7,0],[9,0.02],[11,0.03],[13,0.05],[15,0.04]];
const f_Oad_d=[[7,0],[9,-0.02],[11,-0.03],[13,-0.05],[15,-0.04]];
const f_Obs_u=[[10.8,0],[11,0.02],[11.2,0]];
const f_Obs_d=[[10.8,0],[11,-0.02],[11.2,0]];
const f_Obp_u=[[-7.5,0.17],[-7.35,0.2],[-7.22,0.34],[-7.1,0.2],[-6.97,0.17],[-6.8,0.13],[-6.64,0.13],[-6.45,0.2],[-6.31,0.25],[-6.15,0.35],[-6.04,0.72],[-5.9,0.4],[-5.82,0.34],[-5.66,0.3],[-5.5,0.35],[-5.33,0.38],[-5.2,0.25],[-5.08,0.17],[-4.95,0.3],[-4.75,0.47],[-4.65,0.2],[-4.59,0.13],[-4.45,0.06],[-4.34,0.04],[-4.2,0],[5.5,0],[6.5,0.01],[7.0,0.03],[7.5,0.04],[8,0.05],[8.5,0.04],[9,0.05],[9.5,0.04],[10,0.05],[10.5,0.07],[11,0.13],[11.3,0.08],[11.6,0.1],[12,0.07],[12.5,0.06],[13,0.05],[13.5,0.05],[14,0.04],[14.5,0.04],[15,0.04]];
const f_Obp_d=[[-7.5,-0.13],[-7.35,-0.18],[-7.22,-0.21],[-7.0,-0.2],[-6.81,-0.25],[-6.6,-0.3],[-6.4,-0.34],[-6.28,-0.64],[-6.15,-0.4],[-5.99,-0.34],[-5.8,-0.3],[-5.66,-0.3],[-5.5,-0.35],[-5.41,-0.42],[-5.25,-0.4],[-5.03,-0.59],[-4.9,-0.3],[-4.75,-0.21],[-4.6,-0.08],[-4.4,0],[5.5,0],[6.5,-0.01],[7.0,-0.03],[7.5,-0.04],[8,-0.04],[8.5,-0.05],[9,-0.04],[9.5,-0.05],[10,-0.05],[10.5,-0.07],[11,-0.13],[11.3,-0.08],[11.6,-0.1],[12,-0.06],[12.5,-0.05],[13,-0.05],[13.5,-0.05],[14,-0.04],[14.5,-0.03],[15,-0.04]];
const f_Obd_u=[[7,0],[9,0.03],[11,0.07],[12,0.05],[13,0.05],[14,0.04],[15,0.04]];
const f_Obd_d=[[7,0],[9,-0.03],[11,-0.07],[12,-0.05],[13,-0.05],[14,-0.04],[15,-0.04]];
const f_Ohs_u=[[13.3,0],[13.5,0.015],[13.7,0]];
const f_Ohs_d=[[13.3,0],[13.5,-0.015],[13.7,0]];
const f_Ohp_u=[[-7.5,0.02],[-7.0,0.03],[-6.7,0.05],[-6.48,0.17],[-6.3,0.1],[-6.1,0.08],[-5.99,0.13],[-5.8,0.1],[-5.66,0.17],[-5.5,0.12],[-5.33,0.13],[-5.16,0.13],[-5.0,0.1],[-4.8,0.085],[-4.6,0.04],[-4.4,0.02],[-4.0,0.01],[-3.8,0],[-1.66,0],[-1.58,0.13],[-1.5,0],[-1.2,0],[-1.16,0.03],[-1.1,0],[10,0],[11,0.02],[12,0.02],[13,0.02],[13.5,0.03],[14,0.02],[15,0.02]];
const f_Ohp_d=[[-7.5,-0.02],[-7.0,-0.03],[-6.6,-0.05],[-6.3,-0.1],[-6.0,-0.13],[-5.8,-0.1],[-5.5,-0.21],[-5.3,-0.15],[-5.03,-0.38],[-4.9,-0.2],[-4.7,-0.08],[-4.5,-0.03],[-4.2,0],[10,0],[11,-0.02],[12,-0.02],[13,-0.02],[14,-0.02],[15,-0.02]];
const f_Ohd_u=[[10,0],[12,0.02],[13.3,0.03],[15,0.02]];
const f_Ohd_d=[[10,0],[12,-0.02],[13.3,-0.03],[15,-0.02]];
const f_T_u=[[-7.5,0.32],[-7.22,0.66],[-6.97,0.36],[-6.73,0.49],[-6.56,0.91],[-6.45,0.4],[-6.31,0.87],[-6.15,1.1],[-5.99,0.66],[-5.82,1.1],[-5.66,0.74],[-5.49,1.1],[-5.33,0.57],[-5.16,0.83],[-5.0,0.4],[-4.85,0.9],[-4.75,1.1],[-4.64,0.23],[-4.42,0],[-4.25,0],[-4.18,0.36],[-4.08,0],[-3.95,0],[-3.88,0.4],[-3.78,0],[-3.56,0],[-3.48,0.44],[-3.27,0],[-2.7,0],[-2.61,0.36],[-2.5,0],[-2.3,0],[-2.2,0.79],[-2.09,0],[-2.04,0.36],[-1.9,0],[-1.66,0],[-1.58,1.1],[-1.46,0],[-1.25,0],[-1.16,0.19],[-1.05,0],[2.9,0],[4.0,0.03],[4.88,0.06],[5.5,0.07],[5.95,0.08],[6.05,0],[6.3,0.1],[6.6,0.08],[7.0,0.19],[7.5,0.23],[7.8,0.2],[8.2,0.27],[8.5,0.22],[8.8,0.19],[9.2,0.2],[9.6,0.23],[10.0,0.22],[10.3,0.25],[10.47,0.44],[10.65,0.23],[10.9,0.44],[11.1,0.3],[11.46,0.53],[11.65,0.32],[11.9,0.3],[12.2,0.38],[12.4,0.26],[12.7,0.35],[13.0,0.24],[13.3,0.32],[13.6,0.23],[14.0,0.24],[14.3,0.2],[14.6,0.15],[15,0.23]];
const f_T_d=[[-7.5,-0.15],[-7.3,-0.32],[-7.13,-0.24],[-6.89,-0.28],[-6.64,-0.2],[-6.45,-1.1],[-6.25,-1.1],[-6.1,-0.28],[-5.82,-0.71],[-5.57,-0.62],[-5.36,-0.97],[-5.16,-0.79],[-5.0,-1.1],[-4.84,-0.62],[-4.67,-0.45],[-4.5,-0.28],[-4.18,-0.11],[-3.85,-0.03],[-3.6,0],[-0.55,0],[-0.47,-1.1],[-0.4,0],[-0.15,0],[-0.06,-0.15],[0.02,0],[2.9,0],[3.35,-0.05],[3.48,-0.37],[3.56,-0.2],[3.64,-0.71],[3.75,-0.2],[3.95,-0.1],[4.14,-0.54],[4.3,-0.07],[4.88,-0.11],[5.5,-0.07],[6.0,-0.03],[6.3,-0.1],[7.0,-0.11],[7.8,-0.15],[8.5,-0.2],[9.2,-0.15],[10.0,-0.2],[10.5,-0.28],[11.0,-0.54],[11.2,-0.24],[11.49,-0.54],[11.7,-0.24],[12.3,-0.28],[13.0,-0.24],[13.8,-0.2],[14.3,-0.15],[15,-0.15]];

// ---------- styling / layout ----------
const COL = {s:'#1f77b4', p:'#ff7f0e', d:'#2ca02c', dz2:'#1f77b4', dxz:'#ff7f0e', dyz:'#2ca02c', dx2:'#d62728', dxy:'#9467bd'};
const FONT = '"DejaVu Sans", sans-serif';
function spdRows(el, pre){ // helper building row description from arrays by name
  return null;
}
const panels = [
 {label:'(a)', left:57, top:7, bottom:400, legRight:637, tot:{right:637, off:9}, rows:[
  [['Si s','s',a_Sis_u,a_Sis_d],['Si p','p',a_Sip_u,a_Sip_d],['Si d','d',a_Sid_u,a_Sid_d]],
  [['K s','s',a_Ks_u,a_Ks_d],['K p','p',a_Kp_u,a_Kp_d],['K d','d',a_Kd_u,a_Kd_d]],
  [['H s','s',a_Hs_u,a_Hs_d],['H p','p',a_Hp_u,a_Hp_d]],
  {total:[a_T_u,a_T_d]}]},
 {label:'(b)', left:662, top:7, bottom:400, legRight:31, tot:{left:902, off:75}, rows:[
  [['O(a) s','s',b_Oas_u,b_Oas_d],['O(a) p','p',b_Oap_u,b_Oap_d],['O(a) d','d',b_Oad_u,b_Oad_d]],
  [['O(b) s','s',b_Obs_u,b_Obs_d],['O(b) p','p',b_Obp_u,b_Obp_d],['O(b) d','d',b_Obd_u,b_Obd_d]],
  [['O(h) s','s',b_Ohs_u,b_Ohs_d],['O(h) p','p',b_Ohp_u,b_Ohp_d],['O(h) d','d',b_Ohd_u,b_Ohd_d]],
  {total:[b_T_u,b_T_d]}]},
 {label:'(c)', left:57, top:460, bottom:853, legRight:637, tot:{left:297, off:9}, rows:[
  [['Si s','s',c_Sis_u,c_Sis_d],['Si p','p',c_Sip_u,c_Sip_d],['Si d','d',c_Sid_u,c_Sid_d]],
  [['K s','s',c_Ks_u,c_Ks_d],['K p','p',c_Kp_u,c_Kp_d],['K d','d',c_Kd_u,c_Kd_d]],
  [['H s','s',c_Hs_u,c_Hs_d],['H p','p',c_Hp_u,c_Hp_d]],
  {total:[c_T_u,c_T_d]}]},
 {label:'(d)', left:662, top:460, bottom:853, legRight:31, tot:{left:902, off:9}, rows:[
  [['Fe dz2','dz2',d_Fz2_u,d_Fz2_d],['Fe dxz','dxz',d_Fxz_u,d_Fxz_d],['Fe dyz','dyz',d_Fyz_u,d_Fyz_d],['Fe dx2-y2','dx2',d_Fx2_u,d_Fx2_d],['Fe dxy','dxy',d_Fxy_u,d_Fxy_d]],
  [['O(a) s','s',d_Oas_u,d_Oas_d],['O(a) p','p',d_Oap_u,d_Oap_d],['O(a) d','d',d_Oad_u,d_Oad_d]],
  [['O(b) s','s',d_Obs_u,d_Obs_d],['O(b) p','p',d_Obp_u,d_Obp_d],['O(b) d','d',d_Obd_u,d_Obd_d]],
  [['O(h) s','s',d_Ohs_u,d_Ohs_d],['O(h) p','p',d_Ohp_u,d_Ohp_d],['O(h) d','d',d_Ohd_u,d_Ohd_d]],
  {total:[d_T_u,d_T_d]}]},
 {label:'(e)', left:57, top:914, bottom:1307, legRight:637, tot:{left:297, off:9}, rows:[
  [['Si s','s',e_Sis_u,e_Sis_d],['Si p','p',e_Sip_u,e_Sip_d],['Si d','d',e_Sid_u,e_Sid_d]],
  [['K s','s',e_Ks_u,e_Ks_d],['K p','p',e_Kp_u,e_Kp_d],['K d','d',e_Kd_u,e_Kd_d]],
  [['H s','s',e_Hs_u,e_Hs_d],['H p','p',e_Hp_u,e_Hp_d]],
  {total:[e_T_u,e_T_d]}]},
 {label:'(f)', left:662, top:914, bottom:1307, legRight:31, tot:{left:902, off:9}, rows:[
  [['Fe dz2','dz2',f_Fz2_u,f_Fz2_d],['Fe dxz','dxz',f_Fxz_u,f_Fxz_d],['Fe dyz','dyz',f_Fyz_u,f_Fyz_d],['Fe dx2-y2','dx2',f_Fx2_u,f_Fx2_d],['Fe dxy','dxy',f_Fxy_u,f_Fxy_d]],
  [['O(a) s','s',f_Oas_u,f_Oas_d],['O(a) p','p',f_Oap_u,f_Oap_d],['O(a) d','d',f_Oad_u,f_Oad_d]],
  [['O(b) s','s',f_Obs_u,f_Obs_d],['O(b) p','p',f_Obp_u,f_Obp_d],['O(b) d','d',f_Obd_u,f_Obd_d]],
  [['O(h) s','s',f_Ohs_u,f_Ohs_d],['O(h) p','p',f_Ohp_u,f_Ohp_d],['O(h) d','d',f_Ohd_u,f_Ohd_d]],
  {total:[f_T_u,f_T_d]}]}
];

const FE_RICH = {'Fe dz2':'{n|Fe d}{s|z²}','Fe dxz':'{n|Fe d}{s|xz}','Fe dyz':'{n|Fe d}{s|yz}','Fe dx2-y2':'{n|Fe d}{s|x² − y²}','Fe dxy':'{n|Fe d}{s|xy}'};
const fmtTick = v => (v < 0 ? '\u2212' : '') + Math.abs(v).toFixed(1);

const option = {animation:false, backgroundColor:'#fff', grid:[], xAxis:[], yAxis:[], series:[], legend:[], graphic:[]};
let gi = 0;
const W = 532;
panels.forEach(p => {
  const n = p.rows.length, h = (p.bottom - p.top) / n;
  p.rows.forEach((row, ri) => {
    const top = p.top + ri * h, last = ri === n - 1;
    option.grid.push({left:p.left, top:top, width:W, height:h, show:true, borderColor:'#222', borderWidth:1, backgroundColor:'rgba(0,0,0,0)'});
    option.xAxis.push({gridIndex:gi, type:'value', min:-7.5, max:15, interval:2.5,
      axisLine:{show:false}, splitLine:{show:false},
      axisTick:{show:last, length:4, lineStyle:{color:'#000', width:0.8}},
      axisLabel:{show:last, formatter:fmtTick, fontSize:10.5, color:'#111', fontFamily:FONT, margin:6, showMinLabel:true, showMaxLabel:true},
      name: last ? 'Energy (eV)' : '', nameLocation:'middle', nameGap:21,
      nameTextStyle:{fontSize:16, color:'#000', fontFamily:FONT}});
    option.yAxis.push({gridIndex:gi, type:'value', min:-1, max:1, show:false});
    const base = {type:'line', xAxisIndex:gi, yAxisIndex:gi, symbol:'none', showSymbol:false, silent:true, clip:true};
    if (row.total) {
      const [up, dn] = row.total;
      option.series.push(Object.assign({}, base, {name:'Total', data:up, color:'#000', lineStyle:{width:0, opacity:0}, areaStyle:{color:'#e1e1e1', opacity:1}, z:2}));
      option.series.push(Object.assign({}, base, {name:'Total', data:dn, color:'#000', lineStyle:{width:0, opacity:0}, areaStyle:{color:'#e1e1e1', opacity:1}, z:2}));
      option.series.push(Object.assign({}, base, {data:[[-7.5,0],[15,0]], lineStyle:{color:'#8c8c8c', width:1.2}, z:3}));
      option.series.push(Object.assign({}, base, {name:'Total', data:up, color:'#000', lineStyle:{color:'#000', width:1}, z:4}));
      option.series.push(Object.assign({}, base, {name:'Total', data:dn, color:'#000', lineStyle:{color:'#000', width:1, type:[4,2]}, z:4}));
      const lg = {data:[{name:'Total', itemStyle:{color:'#000'}}], top: top + p.tot.off, icon:'rect', itemWidth:22, itemHeight:1.3, padding:0, selectedMode:false,
        textStyle:{fontSize:11, color:'#000', fontFamily:FONT}};
      if (p.tot.right !== undefined) lg.right = p.tot.right; else lg.left = p.tot.left;
      option.legend.push(lg);
    } else {
      // draw later orbitals first so smaller contributions stay visible on top
      for (let k = row.length - 1; k >= 0; k--) {
        const [nm, ck, up, dn] = row[k];
        const c = COL[ck];
        [up, dn].forEach(dat => option.series.push(Object.assign({}, base, {name:nm, data:dat, color:c, itemStyle:{color:c},
          lineStyle:{color:c, width:0.6}, areaStyle:{color:c, opacity:1}, z:2})));
      }
      option.series.push(Object.assign({}, base, {data:[[-7.5,0],[15,0]], lineStyle:{color:'#9a9a9a', width:1.2}, z:3}));
      const isFe = row[0][0].indexOf('Fe') === 0;
      const lg = {data: row.map(r => ({name:r[0], itemStyle:{color:COL[r[1]]}})), right:p.legRight, top: top + 8, icon:'rect', itemWidth:22, itemHeight:8, itemGap:6, padding:0, selectedMode:false,
        textStyle:{fontSize:11, color:'#000', fontFamily:FONT}};
      if (isFe) {
        lg.formatter = nm => FE_RICH[nm];
        lg.textStyle.rich = {n:{fontSize:11, fontFamily:FONT, color:'#000', lineHeight:14, verticalAlign:'middle'}, s:{fontSize:7.5, fontFamily:FONT, color:'#000', lineHeight:8, verticalAlign:'bottom'}};
      }
      option.legend.push(lg);
    }
    // dashed Fermi level line
    option.series.push(Object.assign({}, base, {data:[[0,-1],[0,1]], lineStyle:{color:'#555', width:0.8, type:[4,3]}, z:5}));
    gi++;
  });
  // panel label and y label
  const lx = p.left === 57 ? 23 : 628;
  option.graphic.push({type:'text', x: p.left - 34, y: p.bottom + 33, style:{text:p.label, fontSize:21, fontFamily:FONT, fill:'#000', align:'center', verticalAlign:'middle'}});
  option.graphic.push({type:'text', x: p.left === 57 ? 26 : 631, y: p.top + 215, rotation: Math.PI/2, style:{text:'DOS (arb. unit)', fontSize:16, fontFamily:FONT, fill:'#000', align:'center', verticalAlign:'middle'}});
});

const chart = echarts.init(document.getElementById('c'), null, {renderer:'canvas'});
chart.setOption(option);
</script></body></html>
